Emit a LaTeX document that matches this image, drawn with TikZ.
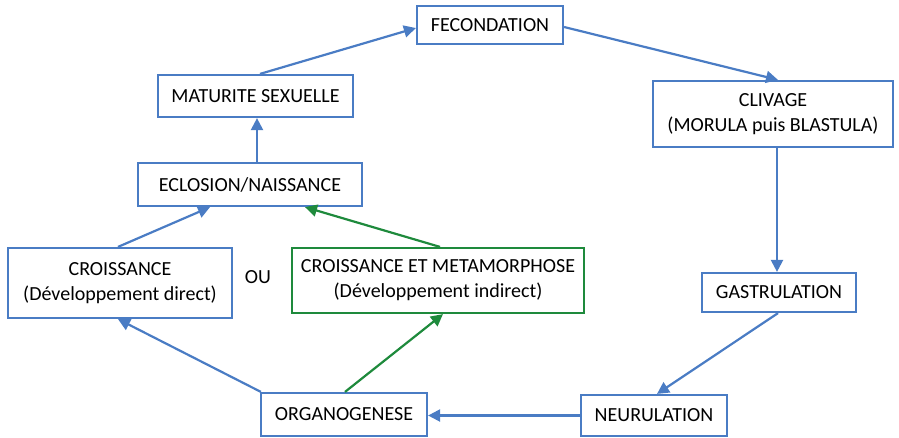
\documentclass[tikz,border=0pt]{standalone}
\usepackage{fontspec}
\setmainfont{Carlito}
\usetikzlibrary{calc,arrows.meta}
\definecolor{bl}{HTML}{4A7CC4}
\definecolor{gr}{HTML}{1E8A3C}
\begin{document}
\begin{tikzpicture}[x=1pt,y=-1pt,
  box/.style={draw=bl,line width=2.2pt,fill=white,inner sep=0pt,align=center,font=\fontsize{20}{25}\selectfont},
  gbox/.style={box,draw=gr},
  arr/.style={draw=bl,line width=2.2pt,-{Triangle[length=12pt,width=12pt]}},
  garr/.style={arr,draw=gr}]
\useasboundingbox (0,0) rectangle (899,437);
\node[box,minimum width=146pt,minimum height=38pt] (fec) at (490,25) {FECONDATION};
\node[box,minimum width=195pt,minimum height=42pt] (mat) at (255.5,96) {MATURITE SEXUELLE};
\node[box,minimum width=240pt,minimum height=66pt] (cli) at (773,114) {CLIVAGE\\(MORULA puis BLASTULA)};
\node[box,minimum width=224pt,minimum height=43pt] (ecl) at (250,184.5) {ECLOSION/NAISSANCE};
\node[box,minimum width=224pt,minimum height=70pt] (cro) at (120,283) {CROISSANCE\\(Développement direct)};
\node[font=\fontsize{20}{25}\selectfont] (ou) at (258,277) {OU};
\node[gbox,minimum width=292pt,minimum height=65pt] (met) at (438,280.5) {CROISSANCE ET METAMORPHOSE\\(Développement indirect)};
\node[box,minimum width=154pt,minimum height=39pt] (gas) at (779,292.5) {GASTRULATION};
\node[box,minimum width=166pt,minimum height=43pt] (org) at (344,414.5) {ORGANOGENESE};
\node[box,minimum width=146pt,minimum height=41pt] (neu) at (654,415.5) {NEURULATION};
\draw[arr] ($(mat.north)+(4.5,0)$) -- ($(fec.west)+(0,3)$);
\draw[arr] ($(fec.east)+(0,2)$) -- ($(cli.north)+(5,0)$);
\draw[arr] ($(cli.south)+(4,0)$) -- ($(gas.north)+(-2,0)$);
\draw[arr] ($(gas.south)+(-1,0)$) -- ($(neu.north)+(3,0)$);
\draw[arr] (neu.west) -- (neu.west -| org.east);
\draw[arr] ($(org.north west)+(1,0)$) -- ($(cro.south)+(-2,0)$);
\draw[garr] ($(org.north)+(1,0)$) -- ($(met.south)+(5,0)$);
\draw[arr] ($(cro.north)+(-2,0)$) -- ($(ecl.south)+(-40,0)$);
\draw[garr] ($(met.north)+(2,0)$) -- ($(ecl.south)+(55,0)$);
\draw[arr] ($(ecl.north)+(7,0)$) -- ($(mat.south)+(1.5,0)$);
\end{tikzpicture}
\end{document}
